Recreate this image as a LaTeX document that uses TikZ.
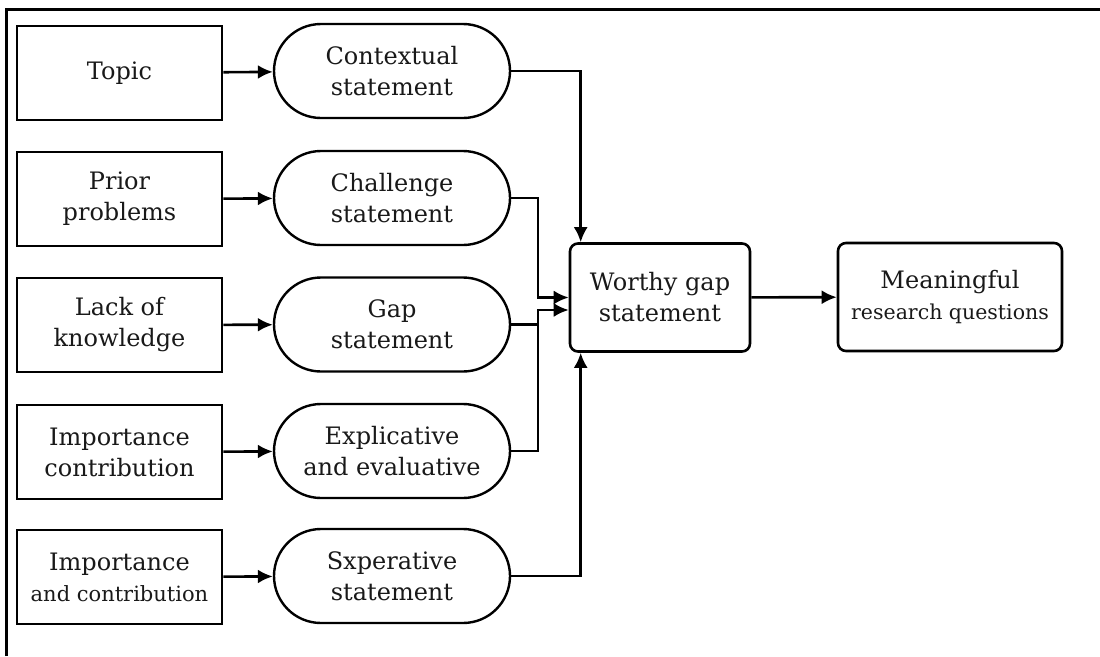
\documentclass[tikz,border=0pt]{standalone}
\usepackage{fontspec}
\setmainfont{DejaVu Serif}
\usetikzlibrary{arrows.meta,shapes.misc}
\begin{document}
\begin{tikzpicture}[x=1pt,y=-1pt,
  txt/.style={align=center,font=\fontsize{24}{31}\selectfont,text=black!90},
  srcbox/.style={txt,draw,line width=2.6pt,minimum width=205pt,minimum height=94pt,inner sep=2pt},
  stmt/.style={txt,draw,line width=2.4pt,rounded rectangle,minimum width=240pt,minimum height=94pt,inner sep=2pt},
  goal/.style={txt,draw,line width=2.6pt,rounded corners=8pt,minimum height=108pt,inner sep=2pt},
  arr/.style={line width=2.6pt,-{Latex[length=15pt,width=14pt]}},
  link/.style={line width=2.6pt}]
\useasboundingbox (0,0) rectangle (1100,656);
\fill[white] (0,0) rectangle (1100,656);
% frame
\draw[line width=3pt] (6,656) -- (6,9) -- (1100,9);

% source boxes
\node[srcbox] (topic) at (119.5,73) {Topic};
\node[srcbox] (prior) at (119.5,199) {Prior\\problems};
\node[srcbox] (lack) at (119.5,325) {Lack of\\knowledge};
\node[srcbox] (impc) at (119.5,452) {Importance\\contribution};
\node[srcbox] (impa) at (119.5,577) {Importance\\{\fontsize{21}{31}\selectfont and contribution}};

% statements
\node[stmt] (ctx) at (392,71) {Contextual\\statement};
\node[stmt] (chl) at (392,198) {Challenge\\statement};
\node[stmt] (gap) at (392,324.5) {Gap\\statement};
\node[stmt] (exv) at (392,451) {Explicative\\and evaluative};
\node[stmt] (sxp) at (392,576) {Sxperative\\statement};

% outcomes
\node[goal,minimum width=180pt] (wg) at (660,297.5) {Worthy gap\\statement};
\node[goal,minimum width=224pt] (mrq) at (950,297) {Meaningful\\{\fontsize{20.5}{31}\selectfont research questions}};

% source -> statement
\draw[arr] (topic) -- (ctx);
\draw[arr] (prior) -- (chl);
\draw[arr] (lack) -- (gap);
\draw[arr] (impc) -- (exv);
\draw[arr] (impa) -- (sxp);

% statements -> worthy gap
\coordinate (busA) at (538,297.5);
\coordinate (busB) at (538,310);
\draw[arr] (ctx.east) -| ([xshift=12pt]wg.north west);
\draw[arr] (chl.east) -| (busA) -- (busA -| wg.west);
\draw[arr] (gap.east) -| (busB) -- (busB -| wg.west);
\draw[link] (exv.east) -| (busB);
\draw[arr] (sxp.east) -| ([xshift=12pt]wg.south west);

% worthy gap -> questions
\draw[arr] (wg) -- (mrq);
\end{tikzpicture}
\end{document}
